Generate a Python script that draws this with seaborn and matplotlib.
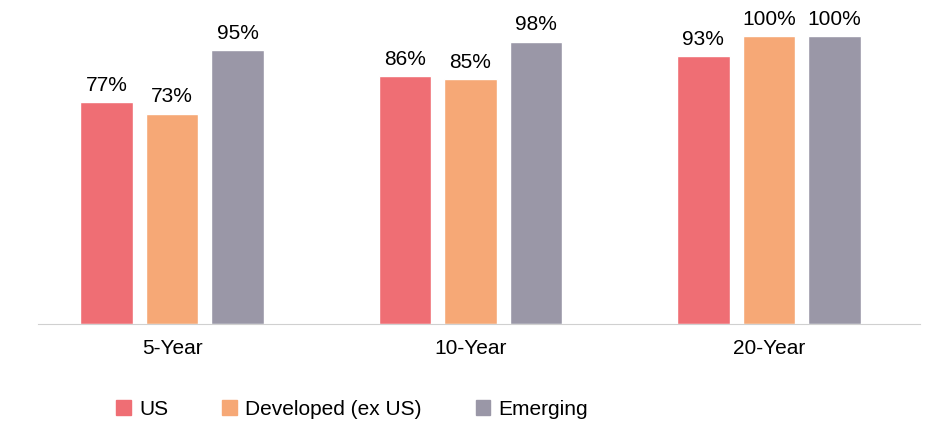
import matplotlib
matplotlib.use("Agg")
import matplotlib.pyplot as plt
import seaborn as sns
import pandas as pd

periods = ["5-Year", "10-Year", "20-Year"]
regions = ["US", "Developed (ex US)", "Emerging"]
us = [77, 86, 93]
developed = [73, 85, 100]
emerging = [95, 98, 100]
colors = ["#EF6E74", "#F6A876", "#9A97A7"]

df = pd.DataFrame({
    "period": periods * 3,
    "region": [regions[0]] * 3 + [regions[1]] * 3 + [regions[2]] * 3,
    "value": us + developed + emerging,
})

sns.set_style("white")
plt.rcParams["font.family"] = ["Liberation Sans", "DejaVu Sans"]
plt.rcParams["text.color"] = "black"
plt.rcParams["xtick.color"] = "black"

fig = plt.figure(figsize=(9.39, 4.35), dpi=100)
ax = fig.add_axes([38 / 939, 1 - 325 / 435, (920 - 38) / 939, 315 / 435])
sns.barplot(data=df, x="period", y="value", hue="region", palette=colors,
            width=0.66, gap=0.2, saturation=1, ax=ax, legend=False)

for cont in ax.containers:
    ax.bar_label(cont, labels=[f"{v:.0f}%" for v in cont.datavalues],
                 padding=6, fontsize=15, color="black")

ax.set_ylim(0, 109.4)
ax.set_xlim(-0.449, 2.506)
ax.set_yticks([])
ax.set_xlabel("")
ax.set_ylabel("")
ax.tick_params(axis="x", labelsize=15, length=0, pad=10)
for s in ["top", "right", "left"]:
    ax.spines[s].set_visible(False)
ax.spines["bottom"].set_color("#D0D0D0")

handles = [plt.Rectangle((0, 0), 1, 1, color=c) for c in colors]
fig.legend(handles, regions, loc="center", bbox_to_anchor=(0.375, 1 - 410 / 435),
           ncol=3, frameon=False, fontsize=15, handlelength=0.7,
           handleheight=0.7, handletextpad=0.4, columnspacing=2.6)

fig.savefig("out.png", dpi=100)
